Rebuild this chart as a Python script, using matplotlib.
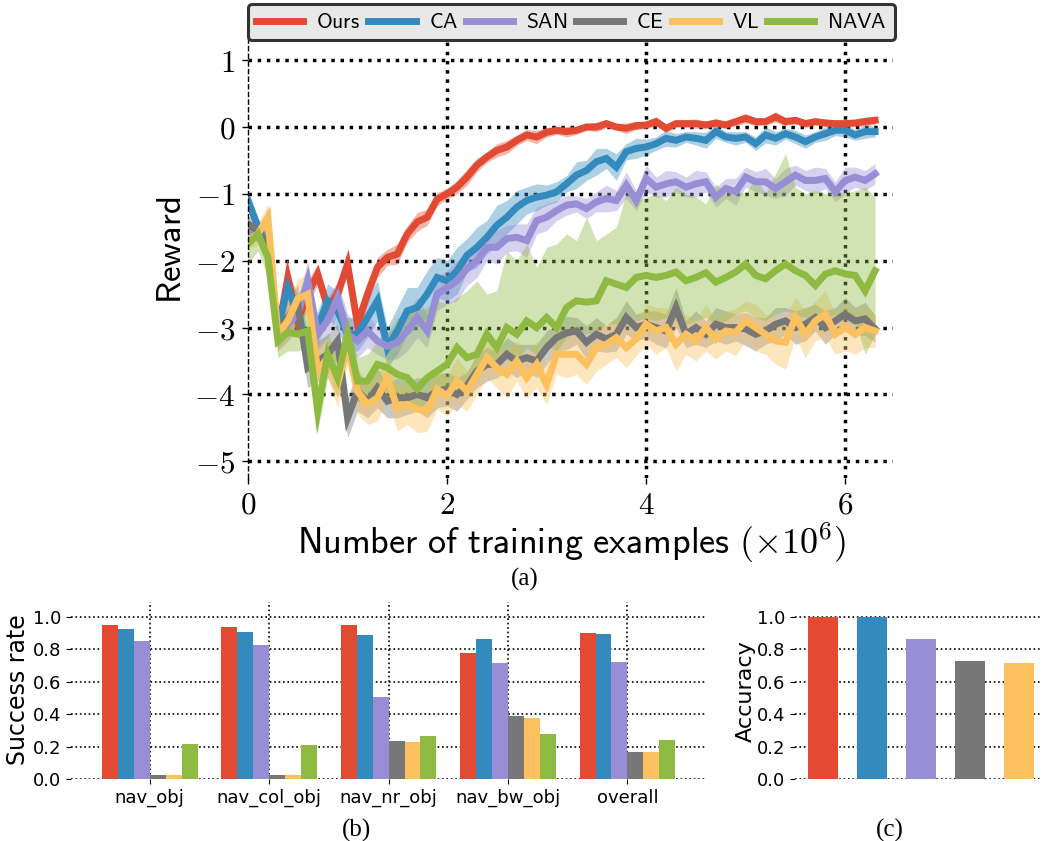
import numpy as np
import matplotlib
matplotlib.use("Agg")
import matplotlib.pyplot as plt
from matplotlib.lines import Line2D

plt.rcParams['mathtext.fontset'] = 'cm'

# ---------------- data ----------------
methods = ["Ours", "CA", "SAN", "CE", "VL", "NAVA"]
colors = ['#E24A33', '#348ABD', '#988ED5', '#777777', '#FBC15E', '#8EBA42']

steps = np.round(np.arange(0, 6.35, 0.1), 1)  # training examples (x1e6)

ours_mean = [-1.50, -1.60, -1.75, -3.10, -2.25, -2.90, -2.50, -2.20,
             -2.70, -2.50, -2.05, -2.95, -2.50, -2.10, -1.95, -1.90,
             -1.60, -1.42, -1.35, -1.08, -1.00, -0.90, -0.75, -0.57,
             -0.45, -0.35, -0.30, -0.20, -0.12, -0.15, -0.08, -0.05,
             -0.07, -0.05, 0.00, 0.00, 0.05, 0.00, -0.02, 0.02,
             0.03, 0.08, -0.02, 0.05, 0.05, 0.05, 0.03, 0.06,
             0.03, 0.08, 0.13, 0.08, 0.08, 0.15, 0.08, 0.10,
             0.05, 0.08, 0.06, 0.05, 0.05, 0.06, 0.08, 0.10]
ours_err = [0.10, 0.12, 0.15, 0.20, 0.20, 0.18, 0.20, 0.15,
            0.15, 0.18, 0.15, 0.18, 0.15, 0.15, 0.12, 0.15,
            0.12, 0.14, 0.12, 0.10, 0.08, 0.10, 0.12, 0.10,
            0.08, 0.10, 0.10, 0.08, 0.08, 0.10, 0.07, 0.06,
            0.08, 0.06, 0.05, 0.07, 0.06, 0.05, 0.08, 0.06,
            0.05, 0.07, 0.06, 0.05, 0.06, 0.07, 0.05, 0.06,
            0.05, 0.06, 0.07, 0.06, 0.05, 0.08, 0.06, 0.05,
            0.06, 0.05, 0.06, 0.05, 0.06, 0.05, 0.07, 0.06]

ca_mean = [-1.10, -1.50, -1.80, -3.00, -2.40, -2.80, -3.30, -3.00,
           -2.60, -2.75, -3.10, -3.10, -2.85, -2.60, -3.30, -3.05,
           -2.75, -2.70, -2.50, -2.25, -2.30, -2.15, -1.92, -1.80,
           -1.65, -1.47, -1.35, -1.20, -1.10, -1.05, -1.02, -0.97,
           -0.85, -0.72, -0.65, -0.52, -0.47, -0.60, -0.37, -0.32,
           -0.30, -0.25, -0.17, -0.20, -0.15, -0.17, -0.20, -0.07,
           -0.15, -0.17, -0.15, -0.25, -0.12, -0.17, -0.10, -0.15,
           -0.22, -0.15, -0.10, -0.05, -0.05, -0.12, -0.07, -0.07]
ca_err = [0.15, 0.15, 0.20, 0.25, 0.25, 0.30, 0.30, 0.25,
          0.25, 0.30, 0.25, 0.25, 0.30, 0.30, 0.30, 0.35,
          0.35, 0.30, 0.35, 0.30, 0.30, 0.35, 0.25, 0.30,
          0.25, 0.30, 0.25, 0.25, 0.20, 0.20, 0.15, 0.15,
          0.12, 0.20, 0.15, 0.20, 0.15, 0.20, 0.12, 0.15,
          0.12, 0.10, 0.12, 0.10, 0.08, 0.10, 0.12, 0.10,
          0.08, 0.10, 0.08, 0.10, 0.12, 0.10, 0.08, 0.10,
          0.10, 0.08, 0.10, 0.08, 0.10, 0.08, 0.10, 0.08]

san_mean = [-1.60, -1.55, -1.80, -3.10, -2.95, -2.80, -2.30, -3.10,
            -2.90, -2.55, -3.10, -3.20, -3.05, -3.20, -3.28, -3.22,
            -3.05, -2.85, -3.05, -2.50, -2.40, -2.30, -2.12, -2.00,
            -1.80, -1.80, -1.67, -1.65, -1.70, -1.40, -1.35, -1.25,
            -1.17, -1.15, -1.22, -1.12, -1.07, -1.10, -0.87, -1.10,
            -0.77, -0.90, -0.85, -0.82, -0.90, -0.85, -0.82, -1.05,
            -0.92, -0.97, -0.75, -0.82, -0.82, -0.92, -0.82, -0.72,
            -0.80, -0.80, -0.77, -0.97, -0.80, -0.75, -0.80, -0.70]
san_err = [0.15, 0.15, 0.20, 0.25, 0.25, 0.25, 0.30, 0.25,
           0.25, 0.25, 0.30, 0.25, 0.25, 0.20, 0.20, 0.25,
           0.30, 0.30, 0.25, 0.25, 0.25, 0.30, 0.25, 0.25,
           0.20, 0.25, 0.20, 0.20, 0.25, 0.20, 0.20, 0.15,
           0.15, 0.12, 0.15, 0.15, 0.20, 0.15, 0.20, 0.15,
           0.20, 0.15, 0.20, 0.15, 0.15, 0.20, 0.15, 0.15,
           0.15, 0.20, 0.15, 0.15, 0.20, 0.15, 0.20, 0.15,
           0.15, 0.20, 0.15, 0.15, 0.20, 0.15, 0.15, 0.15]

ce_mean = [-1.45, -1.55, -1.80, -3.05, -2.85, -2.65, -3.60, -3.50,
           -3.40, -3.20, -4.35, -3.95, -4.10, -3.90, -4.10, -4.05,
           -4.05, -4.00, -4.05, -3.95, -3.92, -4.00, -3.87, -3.65,
           -3.55, -3.55, -3.40, -3.50, -3.45, -3.50, -3.30, -3.15,
           -3.08, -3.05, -3.22, -3.10, -3.17, -3.10, -2.85, -3.00,
           -2.95, -3.00, -3.05, -2.70, -3.10, -3.00, -3.10, -2.95,
           -3.00, -3.00, -3.02, -3.10, -3.05, -2.95, -2.90, -3.00,
           -2.95, -2.85, -3.00, -2.90, -2.80, -2.90, -2.87, -3.02]
ce_err = [0.12, 0.15, 0.20, 0.25, 0.25, 0.30, 0.30, 0.30,
          0.30, 0.25, 0.30, 0.30, 0.25, 0.30, 0.25, 0.30,
          0.25, 0.25, 0.30, 0.25, 0.25, 0.25, 0.20, 0.25,
          0.25, 0.20, 0.25, 0.25, 0.20, 0.25, 0.25, 0.20,
          0.25, 0.20, 0.25, 0.25, 0.20, 0.25, 0.25, 0.20,
          0.20, 0.25, 0.25, 0.30, 0.20, 0.25, 0.20, 0.25,
          0.25, 0.20, 0.25, 0.25, 0.20, 0.25, 0.20, 0.25,
          0.25, 0.20, 0.25, 0.20, 0.25, 0.20, 0.25, 0.20]

vl_mean = [-1.70, -1.60, -1.35, -3.10, -2.90, -2.57, -2.50, -3.65,
           -3.45, -3.85, -3.25, -3.95, -4.15, -4.05, -3.75, -4.20,
           -4.15, -4.22, -4.25, -3.92, -4.02, -3.80, -3.95, -3.70,
           -3.45, -3.60, -3.70, -3.50, -3.75, -3.55, -3.85, -3.40,
           -3.40, -3.40, -3.55, -3.30, -3.25, -3.15, -3.30, -3.17,
           -2.95, -3.05, -3.00, -3.25, -3.10, -3.20, -3.00, -3.17,
           -3.05, -3.07, -2.90, -3.00, -3.10, -3.20, -3.22, -2.85,
           -3.10, -2.90, -2.80, -3.10, -3.00, -3.10, -3.00, -3.05]
vl_err = [0.15, 0.15, 0.20, 0.25, 0.30, 0.30, 0.30, 0.35,
          0.30, 0.35, 0.30, 0.35, 0.30, 0.35, 0.30, 0.35,
          0.30, 0.35, 0.30, 0.30, 0.30, 0.35, 0.30, 0.30,
          0.30, 0.30, 0.35, 0.30, 0.30, 0.35, 0.30, 0.30,
          0.35, 0.30, 0.30, 0.35, 0.30, 0.30, 0.30, 0.25,
          0.30, 0.35, 0.30, 0.40, 0.30, 0.30, 0.35, 0.30,
          0.30, 0.35, 0.30, 0.35, 0.30, 0.35, 0.40, 0.30,
          0.35, 0.30, 0.35, 0.30, 0.35, 0.30, 0.30, 0.25]

nava_mean = [-1.75, -1.60, -1.95, -3.20, -3.07, -3.10, -3.05, -4.25,
             -3.40, -3.75, -3.10, -3.80, -3.80, -3.55, -3.60, -3.70,
             -3.75, -3.92, -3.75, -3.65, -3.55, -3.30, -3.45, -3.40,
             -3.10, -3.30, -3.00, -3.10, -2.90, -3.00, -2.85, -3.00,
             -2.70, -2.60, -2.62, -2.60, -2.30, -2.35, -2.40, -2.25,
             -2.22, -2.25, -2.22, -2.17, -2.30, -2.25, -2.18, -2.32,
             -2.25, -2.17, -2.05, -2.22, -2.27, -2.15, -2.05, -2.15,
             -2.22, -2.37, -2.20, -2.15, -2.20, -2.22, -2.45, -2.15]
nava_hi = [-1.45, -1.40, -1.70, -2.90, -2.80, -2.80, -2.75, -3.90,
           -3.10, -3.40, -2.85, -3.45, -3.40, -3.20, -3.10, -2.85,
           -2.80, -2.75, -2.70, -2.60, -2.65, -2.55, -2.45, -2.30,
           -2.50, -2.45, -1.85, -2.00, -1.75, -2.10, -1.80, -1.75,
           -1.60, -1.70, -1.35, -1.70, -1.60, -1.50, -1.00, -1.10,
           -1.05, -1.00, -1.10, -0.90, -1.00, -1.05, -1.15, -0.85,
           -1.00, -0.95, -1.00, -0.75, -1.00, -0.70, -0.40, -0.90,
           -1.00, -0.95, -1.00, -0.95, -1.00, -0.95, -0.90, -1.05]
nava_lo = [-2.05, -1.85, -2.25, -3.45, -3.35, -3.35, -3.30, -4.55,
           -3.75, -4.05, -3.45, -4.10, -4.10, -3.90, -3.95, -4.05,
           -4.10, -4.25, -4.10, -4.00, -3.95, -3.75, -3.85, -3.80,
           -3.50, -3.65, -3.40, -3.50, -3.30, -3.40, -3.25, -3.35,
           -3.15, -3.05, -3.10, -3.05, -2.95, -2.95, -3.00, -2.90,
           -2.85, -2.90, -2.85, -2.90, -2.95, -2.90, -2.85, -2.95,
           -2.90, -2.80, -2.75, -2.85, -2.90, -2.80, -2.75, -2.80,
           -2.85, -2.95, -2.85, -2.80, -2.85, -2.90, -3.40, -3.10]

reward_yticks = [-5, -4, -3, -2, -1, 0, 1]
reward_xticks = [0, 2, 4, 6]

tasks = ["nav_obj", "nav_col_obj", "nav_nr_obj", "nav_bw_obj", "overall"]
success = {
    "Ours": [0.946, 0.938, 0.946, 0.778, 0.901],
    "CA":   [0.926, 0.907, 0.889, 0.864, 0.895],
    "SAN":  [0.848, 0.827, 0.502, 0.716, 0.722],
    "CE":   [0.025, 0.025, 0.235, 0.389, 0.167],
    "VL":   [0.025, 0.025, 0.229, 0.377, 0.167],
    "NAVA": [0.216, 0.210, 0.266, 0.278, 0.241],
}
acc_methods = ["Ours", "CA", "SAN", "CE", "VL"]
accuracy = [1.0, 1.0, 0.864, 0.728, 0.716]
frac_ticks = [0.0, 0.2, 0.4, 0.6, 0.8, 1.0]

# ---------------- figure ----------------
fig = plt.figure(figsize=(10.42, 8.41), dpi=100)

# (a) reward curves
ax = fig.add_axes([0.238, 0.4316, 0.619, 0.5208])
curves = [(ours_mean, ours_err), (ca_mean, ca_err), (san_mean, san_err),
          (ce_mean, ce_err), (vl_mean, vl_err)]
for (m, e), c in zip(curves, colors[:5]):
    m = np.array(m); e = np.array(e)
    ax.fill_between(steps, m - e, m + e, color=c, alpha=0.4, lw=0, zorder=1)
ax.fill_between(steps, nava_lo, nava_hi, color=colors[5], alpha=0.4, lw=0, zorder=1)
means = [ours_mean, ca_mean, san_mean, ce_mean, vl_mean, nava_mean]
for m, c in zip(means, colors):
    ax.plot(steps, m, color=c, lw=5.0, zorder=2, solid_joinstyle='miter')

for y in reward_yticks:
    ax.axhline(y, color='black', ls=':', lw=2.5, zorder=0.5)
for x in reward_xticks[1:]:
    ax.axvline(x, color='black', ls=':', lw=2.5, zorder=0.5)

ax.set_xlim(0, 6.48)
ax.set_ylim(-5.25, 1.3)
for s in ['top', 'right', 'bottom']:
    ax.spines[s].set_visible(False)
ax.spines['left'].set_linestyle((0, (3, 2.5)))
ax.spines['left'].set_linewidth(1.0)
ax.set_yticks(reward_yticks)
ax.set_yticklabels([rf'${v}$' for v in reward_yticks])
ax.set_xticks(reward_xticks)
ax.set_xticklabels([rf'${v}$' for v in reward_xticks])
ax.tick_params(direction='out', length=4, width=1, labelsize=22.5, pad=5)

fig.text(0.164, 0.7027, r'$\mathsf{Reward}$', rotation=90, ha='center', va='center', fontsize=25)
fig.text(0.5485, 0.3543, r'$\mathsf{Number\ of\ training\ examples}\ (\times 10^6)$',
         ha='center', va='center', fontsize=26)

handles = [Line2D([0], [0], color=c, lw=5.0) for c in colors]
leg = fig.legend(handles, [rf'$\mathsf{{{m}}}$' for m in methods], loc='center',
                 bbox_to_anchor=(0.5485, 0.9735), ncol=6, fontsize=15.5,
                 handlelength=2.2, handletextpad=0.6, columnspacing=0.37,
                 borderpad=0.38, frameon=True, fancybox=True, framealpha=1)
leg.get_frame().set_facecolor('#E8E8E8')
leg.get_frame().set_edgecolor('#333333')
leg.get_frame().set_linewidth(2.2)

# (b) success rate
axb = fig.add_axes([0.0681, 0.0737, 0.6085, 0.2105])
w = 0.8 / 6
xg = np.arange(len(tasks))
for k, (m, c) in enumerate(zip(methods, colors)):
    axb.bar(xg + (k - 2.5) * w, success[m], width=w, color=c, zorder=2)
axb.set_xlim(-0.66, 4.65)
axb.set_ylim(0, 1.09)
axb.set_xticks(xg)
axb.set_xticklabels(tasks)
axb.set_yticks(frac_ticks)
axb.set_yticklabels([f'{v:.1f}' for v in frac_ticks])
axb.grid(True, color='black', ls=':', lw=1.2)
axb.set_axisbelow(True)
for s in axb.spines.values():
    s.set_visible(False)
axb.tick_params(direction='out', length=3.5, width=0.8, labelsize=13, pad=3.5)
fig.text(0.0173, 0.1795, 'Success rate', rotation=90, ha='center', va='center', fontsize=17)

# (c) accuracy
axc = fig.add_axes([0.763, 0.0737, 0.237, 0.2105])
xa = np.arange(len(acc_methods))
axc.bar(xa, accuracy, width=0.6, color=colors[:5], zorder=2)
axc.set_xlim(-0.57, 4.47)
axc.set_ylim(0, 1.09)
axc.set_xticks([])
axc.set_yticks(frac_ticks)
axc.set_yticklabels([f'{v:.1f}' for v in frac_ticks])
axc.grid(True, axis='y', color='black', ls=':', lw=1.2)
axc.set_axisbelow(True)
for s in axc.spines.values():
    s.set_visible(False)
axc.tick_params(direction='out', length=3.5, width=0.8, labelsize=13, pad=3.5)
fig.text(0.716, 0.1784, 'Accuracy', rotation=90, ha='center', va='center', fontsize=16)

for lab, x, y in [('(a)', 0.504, 0.3115), ('(b)', 0.3425, 0.0130), ('(c)', 0.854, 0.0130)]:
    fig.text(x, y, lab, ha='center', va='center', fontsize=18, family='Liberation Serif')

fig.savefig('out.png', dpi=100)
